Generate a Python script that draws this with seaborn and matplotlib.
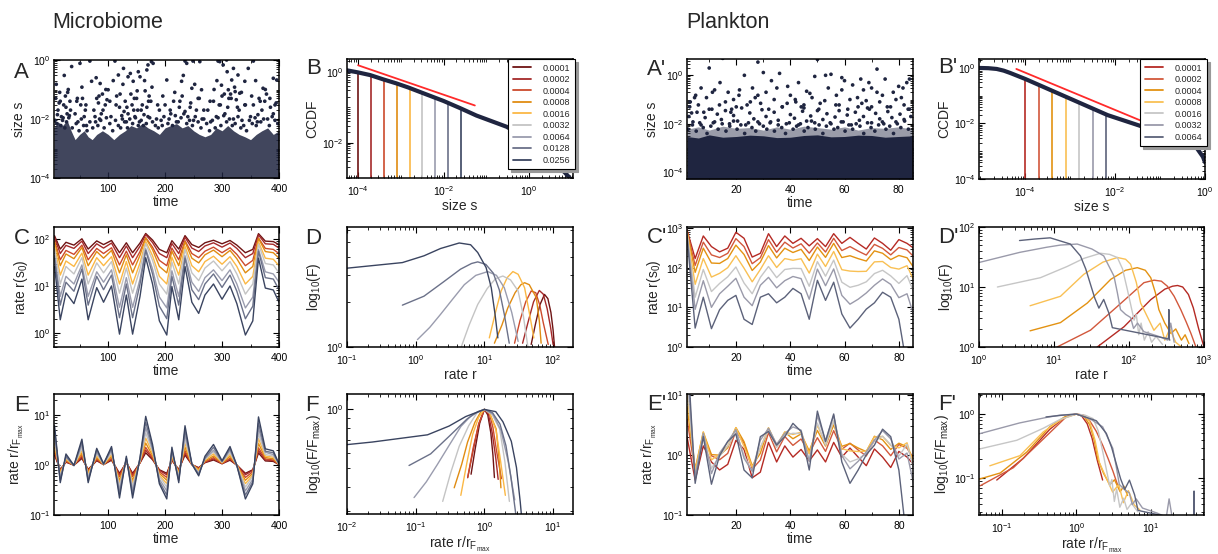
import numpy as np
import pandas as pd
import matplotlib
matplotlib.use('Agg')
import matplotlib.pyplot as plt
import seaborn as sns
from matplotlib.ticker import LogLocator, NullFormatter, LogFormatterSciNotation, MultipleLocator, FixedLocator
from matplotlib.lines import Line2D

sns.set_theme(style='ticks')
plt.rcParams['font.family'] = ['Liberation Sans', 'DejaVu Sans']
plt.rcParams['mathtext.fontset'] = 'custom'
plt.rcParams['mathtext.rm'] = 'Liberation Sans'
plt.rcParams['mathtext.it'] = 'Liberation Sans:italic'
plt.rcParams['mathtext.bf'] = 'Liberation Sans:bold'
plt.rcParams['mathtext.default'] = 'regular'

NAVY = '#1f2540'
RED = '#ff2a2a'

# ---------------- Microbiome data ----------------
mic_thr = [0.0001, 0.0002, 0.0004, 0.0008, 0.0016, 0.0032, 0.0064, 0.0128, 0.0256]
mic_labels = ['0.0001', '0.0002', '0.0004', '0.0008', '0.0016', '0.0032', '0.0064', '0.0128', '0.0256']
mic_colors = ['#6e1414', '#a52a2a', '#cc4a2c', '#e08c12', '#fbb845', '#c4c4c4', '#9a9cae', '#6b7189', '#3a4460']

# panel A: species sizes over time (sparse upper points, mid points, dense lower band edge)
A_top_t = [36, 50.6, 68, 71, 86, 100, 112, 118, 127, 135, 144, 153, 156, 168, 170, 176, 179, 203, 229, 235,
           238, 247, 249, 261, 264, 293, 296, 299, 302, 308, 311, 317, 320, 323, 328, 331, 340, 346, 355, 372,
           390, 396]
A_top_s = [0.6, 0.77, 0.92, 0.19, 0.16, 0.098, 0.92, 0.31, 0.52, 0.27, 0.19, 0.4, 0.27, 0.46, 0.68, 0.88, 0.77, 0.21, 0.19, 0.92,
           0.77, 0.11, 0.92, 0.88, 0.098, 0.92, 0.88, 0.14, 0.68, 1.0, 0.098, 0.21, 0.52, 0.085, 0.31, 0.075, 0.19, 0.52, 0.92, 0.11,
           0.24, 0.21]
A_up_t = [9, 16, 23, 29, 34, 46, 54, 61, 79, 84, 91, 96, 103, 109, 114, 121, 126, 133, 139, 146,
          151, 158, 164, 171, 177, 187, 196, 209, 217, 226, 232, 244, 252, 258, 268, 279, 286, 291, 297, 304,
          309, 316, 322, 327, 334, 341, 352, 359, 367, 376, 384, 393]
A_up_s = [0.15, 0.04, 0.3, 0.08, 0.02, 0.05, 0.12, 0.03, 0.25, 0.06, 0.02, 0.1, 0.04, 0.2, 0.03, 0.07, 0.15, 0.025, 0.35, 0.05,
          0.09, 0.02, 0.2, 0.04, 0.12, 0.03, 0.06, 0.02, 0.08, 0.04, 0.3, 0.025, 0.15, 0.05, 0.02, 0.04, 0.1, 0.2, 0.03, 0.07,
          0.4, 0.05, 0.12, 0.025, 0.08, 0.03, 0.06, 0.2, 0.04, 0.1, 0.05, 0.03]
A_mid_t = [8, 12, 15, 18, 22, 25, 28, 30, 33, 10, 20, 26, 31, 14, 24,
           42, 47, 52, 55, 58, 62, 45, 60,
           75, 80, 85, 90, 95, 78, 88, 98, 105, 83,
           115, 120, 125, 130, 135, 140, 145, 150, 155, 160, 165, 170, 175, 122, 132, 142, 152, 162, 172, 128, 148, 168,
           185, 190, 195, 200, 210, 215, 220, 225, 230, 240, 245, 250, 255, 260, 205, 235, 265,
           275, 280, 285, 290, 295, 300, 305, 310, 315, 320, 325, 330, 335, 340, 288, 312, 318,
           350, 355, 360, 365, 370, 375, 380, 385, 390, 395, 362, 378]
A_mid_s = [0.05, 0.02, 0.08, 0.012, 0.03, 0.06, 0.015, 0.1, 0.04, 0.007, 0.009, 0.025, 0.011, 0.035, 0.005,
           0.015, 0.008, 0.03, 0.05, 0.012, 0.006, 0.04, 0.02,
           0.02, 0.05, 0.01, 0.07, 0.03, 0.008, 0.015, 0.045, 0.012, 0.035,
           0.06, 0.025, 0.01, 0.04, 0.015, 0.07, 0.02, 0.05, 0.008, 0.03, 0.09, 0.012, 0.04, 0.005, 0.008, 0.03, 0.02, 0.006, 0.06, 0.018, 0.011, 0.025,
           0.01, 0.02, 0.006, 0.03, 0.015, 0.04, 0.008, 0.025, 0.06, 0.012, 0.035, 0.009, 0.02, 0.05, 0.007, 0.018, 0.01,
           0.02, 0.008, 0.04, 0.012, 0.03, 0.06, 0.015, 0.025, 0.07, 0.01, 0.045, 0.02, 0.009, 0.03, 0.005, 0.05, 0.006,
           0.012, 0.03, 0.006, 0.05, 0.02, 0.04, 0.01, 0.025, 0.015, 0.035, 0.008, 0.07]
A_low_t = [7, 11, 17, 21, 27, 32, 37, 44, 49, 53, 57, 63, 68, 73, 77, 82, 87, 93, 97, 103,
           108, 113, 118, 124, 129, 134, 138, 143, 147, 153, 158, 163, 167, 173, 178, 183, 188, 193, 198, 207,
           213, 218, 223, 228, 233, 238, 243, 248, 253, 258, 263, 268, 273, 278, 283, 293, 298, 303, 308, 313,
           323, 328, 333, 338, 343, 348, 353, 358, 363, 368, 373, 383, 388, 393, 398]
A_low_s = [0.009, 0.014, 0.006, 0.011, 0.008, 0.013, 0.005, 0.007, 0.004, 0.01, 0.006, 0.004, 0.008, 0.005, 0.012, 0.006, 0.009, 0.005, 0.011, 0.007,
           0.004, 0.009, 0.006, 0.013, 0.008, 0.005, 0.01, 0.007, 0.012, 0.006, 0.009, 0.014, 0.007, 0.011, 0.008, 0.006, 0.005, 0.009, 0.012, 0.01,
           0.006, 0.013, 0.008, 0.011, 0.015, 0.007, 0.009, 0.006, 0.012, 0.008, 0.005, 0.01, 0.007, 0.004, 0.009, 0.011, 0.006, 0.013, 0.008, 0.01,
           0.007, 0.012, 0.005, 0.006, 0.004, 0.009, 0.007, 0.011, 0.014, 0.008, 0.01, 0.006, 0.012, 0.009, 0.007]
A_band_t = [5, 12, 20, 28, 35, 42, 50, 58, 65, 72, 80, 90, 100, 110, 120, 130, 140, 150, 160, 170, 180, 190,
            200, 210, 220, 230, 240, 250, 260, 270, 280, 290, 300, 310, 320, 330, 340, 350, 360, 370, 380, 390, 400]
A_band_top = [5e-3, 8e-3, 6e-3, 9e-3, 4e-3, 2e-3, 3e-3, 4e-3, 2.5e-3, 2e-3, 3e-3, 4e-3, 3e-3, 2e-3, 3e-3, 4e-3,
              6e-3, 5e-3, 7e-3, 5e-3, 4e-3, 3e-3, 5e-3, 6e-3, 7e-3, 5e-3, 6e-3, 4e-3, 3e-3, 2.5e-3, 3e-3, 5e-3,
              4e-3, 6e-3, 4e-3, 3e-3, 2.5e-3, 2e-3, 3e-3, 4e-3, 5e-3, 3e-3, 4e-3]

# panel B: CCDF
B_s = [5.3e-5, 1e-4, 1.9e-4, 3.9e-4, 7.9e-4, 1.5e-3, 3.3e-3, 1e-2, 0.024, 0.059, 0.3, 1.0, 3.0, 5.2, 7.0, 9.0, 10.5]
B_p = [1.11, 0.96, 0.81, 0.61, 0.47, 0.36, 0.25, 0.15, 0.095, 0.058, 0.028, 0.012, 0.004, 0.002, 0.0014, 0.001, 0.0008]
B_fit_s = [1e-4, 0.054]
B_fit_p = [1.53, 0.112]
B_tops = [0.96, 0.76, 0.59, 0.45, 0.34, 0.25, 0.185, 0.135, 0.095]

# panel C: rate r(s0) time series, one per threshold
mic_t = [6, 16, 26, 40, 54, 65, 80, 92, 106, 120, 132, 143, 156, 166, 178, 190, 203, 212, 224, 235, 247, 259, 270,
         285, 300, 314, 326, 341, 354, 364, 376, 390, 400]
C_0001 = [117, 61, 85, 74, 101, 61, 91, 76, 93, 51, 83, 51, 82, 131, 95, 60, 51, 92, 61, 118, 76, 66, 83, 94, 79, 93, 74, 51, 60, 130, 90, 88, 76]
C_0002 = [108, 49, 73, 63, 90, 49, 79, 64, 82, 40, 71, 40, 70, 124, 84, 49, 40, 80, 49, 109, 64, 54, 71, 83, 67, 82, 63, 40, 49, 122, 79, 77, 64]
C_0004 = [91, 36, 57, 47, 74, 36, 63, 49, 65, 28, 55, 28, 54, 107, 67, 35, 27, 64, 36, 92, 49, 40, 55, 67, 51, 65, 47, 27, 35, 105, 63, 60, 49]
C_0008 = [86, 27, 48, 38, 66, 27, 54, 39, 57, 19, 46, 19, 45, 105, 59, 26, 19, 55, 27, 87, 39, 31, 46, 58, 42, 57, 38, 19, 26, 103, 54, 51, 39]
C_0016 = [70, 17, 34, 26, 50, 17, 40, 27, 42, 11, 33, 11, 31, 89, 44, 16, 11, 41, 17, 70, 27, 20, 33, 43, 29, 42, 26, 11, 16, 87, 39, 37, 27]
C_0032 = [60, 11, 26, 18, 40, 11, 31, 19, 33, 7.0, 24, 7.0, 23, 80, 35, 11, 6.7, 32, 11, 60, 19, 13, 24, 34, 21, 33, 18, 6.7, 11, 78, 30, 28, 19]
C_0064 = [44, 6.0, 16, 11, 28, 6.0, 20, 12, 22, 3.5, 15, 3.5, 14, 62, 23, 5.8, 3.4, 21, 6.0, 44, 12, 7.6, 15, 22, 13, 22, 11, 3.4, 5.8, 60, 20, 18, 12]
C_0128 = [39, 3.9, 12, 7.7, 23, 3.9, 16, 8.3, 17, 2.1, 11, 2.1, 11, 57, 18, 3.7, 2.0, 16, 3.9, 39, 8.3, 5.1, 11, 18, 9.3, 17, 7.7, 2.0, 3.7, 55, 15, 14, 8.3]
C_0256 = [26, 1.9, 7.1, 4.2, 14, 1.9, 9.2, 4.5, 10, 0.94, 6.4, 0.94, 6.0, 40, 11, 1.8, 0.9, 9.7, 1.9, 26, 4.5, 2.6, 6.4, 11, 5.2, 10, 4.2, 0.9, 1.8, 39, 9.0, 8.2, 4.5]
mic_C = [C_0001, C_0002, C_0004, C_0008, C_0016, C_0032, C_0064, C_0128, C_0256]

# panel D: histogram of rates, one per threshold
D_r_0001 = [48, 55, 64, 75, 84, 93, 100, 105]
D_F_0001 = [1.04, 1.4, 1.9, 2.24, 2.1, 1.7, 1.3, 1.0]
D_r_0002 = [36, 43, 52, 63, 72, 82, 92, 100]
D_F_0002 = [1.06, 1.45, 2.0, 2.38, 2.25, 1.8, 1.35, 1.04]
D_r_0004 = [27.5, 33, 40, 48, 56, 64, 72, 85]
D_F_0004 = [1.06, 1.5, 2.0, 2.36, 2.3, 1.9, 1.45, 1.04]
D_r_0008 = [14, 18, 21.9, 28, 34, 38.5, 45, 57, 63, 67]
D_F_0008 = [1.06, 1.4, 1.82, 2.3, 2.6, 2.68, 2.6, 2.13, 1.5, 1.06]
D_r_0016 = [11.8, 14.5, 17.5, 21.5, 26, 31, 38.5, 45, 52.5]
D_F_0016 = [1.15, 1.7, 2.36, 2.9, 3.18, 3.05, 2.48, 1.7, 1.15]
D_r_0032 = [4.6, 6.0, 8.0, 11, 14.5, 18.6, 24, 31, 37, 43]
D_F_0032 = [1.0, 1.4, 1.92, 2.45, 2.85, 2.97, 2.8, 2.36, 1.6, 1.0]
D_r_0064 = [1.06, 1.6, 2.3, 3.5, 5.1, 7.5, 11.2, 15, 19.5, 25, 31]
D_F_0064 = [1.12, 1.35, 1.65, 2.1, 2.6, 3.0, 3.18, 3.0, 2.48, 1.7, 1.09]
D_r_0128 = [0.64, 1.32, 2.5, 4.5, 6.5, 8.0, 10.5, 13.5, 16.5, 19.5, 23]
D_F_0128 = [1.9, 2.18, 2.7, 3.3, 3.6, 3.69, 3.55, 3.1, 2.4, 1.65, 1.06]
D_r_0256 = [0.043, 0.1, 0.64, 1.32, 2.3, 4.3, 6.3, 8.0, 10.6, 12.6, 14.3, 15.7]
D_F_0256 = [3.25, 3.35, 3.65, 4.05, 4.53, 4.93, 4.8, 4.26, 3.38, 2.48, 1.65, 1.15]
mic_D_r = [D_r_0001, D_r_0002, D_r_0004, D_r_0008, D_r_0016, D_r_0032, D_r_0064, D_r_0128, D_r_0256]
mic_D_F = [D_F_0001, D_F_0002, D_F_0004, D_F_0008, D_F_0016, D_F_0032, D_F_0064, D_F_0128, D_F_0256]

# ---------------- Plankton data ----------------
pl_thr = [0.0001, 0.0002, 0.0004, 0.0008, 0.0016, 0.0032, 0.0064]
pl_labels = ['0.0001', '0.0002', '0.0004', '0.0008', '0.0016', '0.0032', '0.0064']
pl_colors = ['#b52a24', '#d2583c', '#e39212', '#f9c054', '#c6c6c6', '#9a9aaa', '#5c627a']

Ap_top_t = [3, 5, 6, 7, 9, 10, 11, 12, 14, 15, 16, 17, 19, 20, 21, 23, 24, 26, 27, 28,
            29, 30, 31, 33, 34, 36, 37, 39, 40, 42, 43, 45, 46, 48, 49, 50, 51, 53, 54, 55,
            57, 58, 59, 60, 62, 63, 65, 66, 67, 68, 69, 70, 72, 73, 74, 75, 77, 78, 80, 81,
            82, 83, 84]
Ap_top_s = [0.08, 0.15, 0.06, 0.3, 0.12, 2.0, 0.04, 0.25, 0.5, 5.0, 0.08, 0.2, 0.1, 0.05, 0.15, 1.0, 0.06, 0.3, 0.12, 3.5,
            0.07, 1.3, 0.2, 0.6, 0.1, 1.2, 0.05, 0.35, 0.15, 0.08, 0.5, 0.06, 0.22, 0.12, 0.9, 4.5, 0.07, 1.0, 0.3, 1.1,
            0.15, 0.06, 0.8, 0.6, 0.1, 0.4, 0.05, 0.7, 0.25, 0.09, 0.5, 0.3, 1.8, 0.08, 0.15, 0.7, 0.05, 0.2, 0.35, 0.12,
            0.06, 0.5, 0.7]
Ap_up_t = [2.8, 4.6, 8, 11.2, 13.8, 18.3, 21.2, 25.2, 28, 32, 35, 38.8, 41.8, 44, 47.2, 50, 52.7, 56.8, 59, 61.2,
           64.8, 66.4, 69.2, 72, 75.8, 79, 81.6, 84]
Ap_up_s = [0.05, 0.12, 0.03, 0.2, 0.06, 0.04, 0.25, 0.08, 0.15, 0.04, 0.3, 0.07, 0.1, 0.05, 0.18, 0.035, 0.09, 0.06, 0.25, 0.04,
           0.12, 0.07, 0.04, 0.2, 0.05, 0.1, 0.3, 0.04]
Ap_mid_t = [2.5, 4, 5.5, 7, 8.5, 10, 11.5, 13, 14.5, 16, 17.5, 19, 20.5, 22, 23.5, 25, 26.5, 28, 29.5, 31,
            32.5, 34, 35.5, 37, 38.5, 40, 41.5, 43, 44.5, 46, 47.5, 49, 50.5, 52, 53.5, 55, 56.5, 58, 59.5, 61,
            62.5, 64, 65.5, 67, 68.5, 70, 71.5, 73, 74.5, 76, 77.5, 79, 80.5, 82, 83.5, 84.5, 3.5, 18, 45, 70]
Ap_mid_s = [0.02, 0.012, 0.03, 0.009, 0.018, 0.04, 0.011, 0.025, 0.015, 0.035, 0.01, 0.022, 0.013, 0.045, 0.009, 0.028, 0.016, 0.012, 0.038, 0.02,
            0.011, 0.03, 0.014, 0.05, 0.01, 0.024, 0.017, 0.009, 0.033, 0.013, 0.021, 0.011, 0.04, 0.015, 0.026, 0.01, 0.019, 0.035, 0.012, 0.023,
            0.009, 0.03, 0.014, 0.02, 0.045, 0.011, 0.027, 0.016, 0.01, 0.032, 0.018, 0.012, 0.025, 0.015, 0.04, 0.02, 0.028, 0.03, 0.045, 0.05]
Ap_low_t = [2.2, 3.8, 5.2, 6.5, 7.8, 9.2, 10.6, 12, 13.3, 14.8, 16.2, 17.6, 19, 20.3, 21.7, 23.1, 24.5, 25.8, 27.2, 28.6,
            30, 31.3, 32.7, 34.1, 35.5, 36.8, 38.2, 39.6, 41, 42.3, 43.7, 45.1, 46.5, 47.8, 49.2, 50.6, 52, 53.3, 54.7, 56.1,
            57.5, 58.8, 60.2, 61.6, 63, 64.3, 65.7, 67.1, 68.5, 69.8, 71.2, 72.6, 74, 75.3, 76.7, 78.1, 79.5, 80.8, 82.2, 83.6]
Ap_low_s = [0.006, 0.009, 0.005, 0.011, 0.007, 0.004, 0.008, 0.012, 0.006, 0.01, 0.005, 0.008, 0.013, 0.006, 0.009, 0.004, 0.011, 0.007, 0.005, 0.01,
            0.008, 0.006, 0.012, 0.005, 0.009, 0.007, 0.004, 0.011, 0.006, 0.008, 0.01, 0.005, 0.007, 0.013, 0.006, 0.009, 0.004, 0.008, 0.011, 0.006,
            0.007, 0.012, 0.005, 0.009, 0.006, 0.01, 0.008, 0.004, 0.011, 0.007, 0.005, 0.009, 0.012, 0.006, 0.008, 0.004, 0.01, 0.007, 0.013, 0.006]
Ap_band_t = [1.8, 6, 10, 15, 20, 25, 30, 35, 40, 45, 50, 55, 60, 65, 70, 75, 80, 85.3]
Ap_band_top = [3e-3, 2.6e-3, 3.5e-3, 2.8e-3, 3e-3, 3.4e-3, 3.2e-3, 2.7e-3, 2.8e-3, 3.3e-3, 3.5e-3, 2.9e-3,
               3e-3, 3.4e-3, 3.3e-3, 2.8e-3, 3e-3, 3.2e-3]
Ap_band2_top = [6e-3, 7.5e-3, 5.5e-3, 8e-3, 6.5e-3, 7e-3, 5.5e-3, 7.5e-3, 6e-3, 8e-3, 7e-3, 6e-3,
                7.5e-3, 5.5e-3, 7e-3, 6.5e-3, 7.5e-3, 6e-3]

Bp_s = [9.3e-6, 1.5e-5, 2.3e-5, 3.3e-5, 4.6e-5, 1e-4, 1e-3, 6.8e-3, 0.046, 0.26, 0.6, 0.9, 1.0]
Bp_p = [1.0, 0.98, 0.92, 0.8, 0.66, 0.40, 0.078, 0.02, 0.0072, 0.0028, 0.0016, 6.3e-4, 4e-4]
Bp_fit_s = [6.3e-5, 0.038]
Bp_fit_p = [0.92, 0.0125]
Bp_tops = [0.40, 0.25, 0.155, 0.092, 0.053, 0.035, 0.0216]

pl_t = [2, 5, 8, 11, 14, 17, 20, 23, 26, 29, 32, 35, 38, 41, 44, 47, 50, 53, 56, 59, 62, 65, 68, 71, 74, 77, 80, 83, 86]
Cp_0001 = [900, 170, 630, 340, 250, 310, 780, 550, 185, 230, 720, 340, 630, 410, 550, 355, 540, 340, 720, 410, 580, 410, 295, 560, 410, 275, 510, 410, 290]
Cp_0002 = [860, 114, 440, 210, 180, 230, 540, 340, 126, 178, 510, 244, 440, 313, 400, 232, 420, 248, 550, 270, 340, 262, 208, 386, 307, 210, 323, 280, 174]
Cp_0004 = [830, 76, 310, 131, 128, 170, 370, 215, 85, 138, 360, 176, 310, 241, 290, 151, 331, 182, 410, 180, 200, 169, 147, 265, 231, 160, 203, 178, 89]
Cp_0008 = [780, 38, 170, 58, 72, 100, 200, 97, 44, 90, 200, 101, 170, 154, 168, 73, 220, 107, 256, 89, 82, 80, 81, 140, 143, 101, 92, 112, 40]
Cp_0016 = [740, 18, 90, 25, 40, 59, 104, 41, 22, 57, 107, 56, 90, 96, 95, 34, 142, 61, 155, 43, 32, 36, 44, 71, 86, 62, 40, 63, 20]
Cp_0032 = [690, 8.9, 47, 10, 22, 34, 54, 18, 11, 36, 57, 31, 47, 60, 53, 16, 92, 35, 93, 20, 12, 16, 23, 36, 52, 38, 17.5, 22, 5]
Cp_0064 = [630, 3.0, 18, 2.9, 8.7, 15, 20, 5, 3.7, 18, 22, 13, 18, 30, 22, 5, 48, 15, 43, 6.8, 3.0, 5, 9, 13, 24, 18, 5, 0.3, 0.1]
pl_C = [Cp_0001, Cp_0002, Cp_0004, Cp_0008, Cp_0016, Cp_0032, Cp_0064]

Dp_r_0001 = [37.7, 86, 195, 300, 380, 444, 520, 620, 720, 850, 1000]
Dp_F_0001 = [1.0, 2.18, 6.15, 9.2, 10.3, 10.6, 10, 7.5, 4.5, 2.0, 1.0]
Dp_r_0002 = [11, 30.7, 70, 158, 216, 270, 325, 400, 490, 580, 670, 780]
Dp_F_0002 = [1.0, 1.91, 4.75, 11.8, 13, 12.5, 10.3, 7, 4.2, 2.6, 1.68, 1.0]
Dp_r_0004 = [4.8, 12.2, 27.8, 57, 90, 129, 165, 195, 225, 250, 300, 363, 420, 500, 560, 630]
Dp_F_0004 = [1.86, 2.55, 5.4, 13.4, 19, 21, 19, 14.3, 8, 4.2, 2.5, 1.68, 2.0, 1.3, 1.6, 1.14]
Dp_r_0008 = [4.8, 12.2, 25, 45, 70, 90, 105, 125, 143, 180, 215, 260, 300, 350, 420, 500]
Dp_F_0008 = [4.87, 7, 16.3, 26, 31, 29, 24, 12, 5.4, 3.0, 1.9, 2.5, 1.3, 2.0, 1.2, 1.0]
Dp_r_0016 = [1.76, 6.6, 15, 25, 41.7, 55, 70, 82, 95, 117, 125, 135, 145, 160, 180, 200, 230, 280]
Dp_F_0016 = [10, 14.3, 22, 30, 36.5, 35, 31, 20, 9.1, 2.8, 3.5, 1.6, 2.5, 1.3, 1.8, 1.2, 1.5, 1.1]
Dp_r_0032 = [1.0, 3.5, 8, 12.2, 20.4, 32, 46, 63, 70, 77, 90, 105, 115, 130, 158, 250, 330, 360, 400]
Dp_F_0032 = [25.6, 37.8, 46, 50, 52, 43, 33, 15.2, 8, 4.2, 3.5, 3.1, 2.04, 2.5, 1.8, 1.5, 1.3, 2.5, 1.2]
Dp_r_0064 = [3.47, 5.5, 8.9, 16.5, 22.5, 26.5, 30.7, 35, 39.7, 46, 54, 60, 325, 338, 340, 342, 350]
Dp_F_0064 = [59.5, 63, 66, 52, 33, 20, 11, 6.5, 4.45, 6.2, 3.66, 2.1, 1.38, 1.38, 4.2, 1.38, 1.3]
pl_D_r = [Dp_r_0001, Dp_r_0002, Dp_r_0004, Dp_r_0008, Dp_r_0016, Dp_r_0032, Dp_r_0064]
pl_D_F = [Dp_F_0001, Dp_F_0002, Dp_F_0004, Dp_F_0008, Dp_F_0016, Dp_F_0032, Dp_F_0064]

# ---------------- helpers ----------------
W, H = 1218, 554
fig = plt.figure(figsize=(W / 100, H / 100), dpi=100)
fig.patch.set_facecolor('white')


def rect(x0, y0, x1, y1):
    return [x0 / W, 1 - y1 / H, (x1 - x0) / W, (y1 - y0) / H]


def style(ax):
    ax.set_facecolor('white')
    for sp in ax.spines.values():
        sp.set_linewidth(1.1)
        sp.set_color('black')
        sp.set_visible(True)
    ax.tick_params(which='both', direction='in', top=True, right=True, colors='black', labelsize=7.5)
    ax.tick_params(axis='x', which='both', pad=4.2)
    ax.tick_params(axis='y', which='both', pad=2.5)
    ax.tick_params(which='major', length=4, width=0.8)
    ax.tick_params(which='minor', length=2, width=0.6)
    ax.grid(False)


def logaxis(axis, majors):
    axis.set_major_locator(FixedLocator(majors))
    axis.set_major_formatter(LogFormatterSciNotation())
    axis.set_minor_locator(LogLocator(base=10, subs=np.arange(1, 10), numticks=200))
    axis.set_minor_formatter(NullFormatter())


def linaxis(axis, major, minor):
    axis.set_major_locator(MultipleLocator(major))
    axis.set_minor_locator(MultipleLocator(minor))


def draw_lines(ax, xs_list, ys_list, colors, lw=1.0):
    for xs, ys, c in zip(xs_list, ys_list, colors):
        df = pd.DataFrame({'x': np.asarray(xs, float), 'y': np.asarray(ys, float)})
        sns.lineplot(data=df, x='x', y='y', ax=ax, color=c, lw=lw, estimator=None,
                     sort=False, legend=False)


def dots(ax, xs, ys):
    sns.scatterplot(x=xs, y=ys, ax=ax, s=7, color=NAVY, edgecolor='none', linewidth=0)


def peaks(rs, Fs):
    out = []
    for r, F in zip(rs, Fs):
        i = int(np.argmax(F))
        out.append((r[i], F[i]))
    return out


LBL = 10


def labels(ax, xl, yl):
    ax.set_xlabel(xl, fontsize=LBL, labelpad=1)
    ax.set_ylabel(yl, fontsize=LBL, labelpad=2)


def letter(x, y, s):
    fig.text(x / W, 1 - y / H, s, fontsize=16, va='baseline', ha='left')


def ccdf_panel(ax, thr, tops, colors, s, p, fs, fp, lab, xlim, ylim, xmaj, ymaj):
    ax.set_xscale('log')
    ax.set_yscale('log')
    ax.set_xlim(*xlim)
    ax.set_ylim(*ylim)
    ax.vlines(thr, ylim[0], tops, colors=colors, lw=1.2)
    df = pd.DataFrame({'x': s, 'y': p})
    sns.lineplot(data=df, x='x', y='y', ax=ax, color=NAVY, lw=3.0, estimator=None, sort=False)
    df2 = pd.DataFrame({'x': fs, 'y': fp})
    sns.lineplot(data=df2, x='x', y='y', ax=ax, color=RED, lw=1.3, estimator=None, sort=False)
    handles = [Line2D([], [], color=c, lw=1.3) for c in colors]
    leg = ax.legend(handles, lab, loc='upper right', bbox_to_anchor=(1.008, 1.0), fontsize=6.5,
                    frameon=True, fancybox=False, shadow={'color': '0.6', 'alpha': 1.0},
                    borderpad=0.5, labelspacing=0.28,
                    handlelength=2.0, handletextpad=1.3, borderaxespad=0.0)
    leg.get_frame().set_edgecolor('black')
    leg.get_frame().set_linewidth(0.8)
    logaxis(ax.xaxis, xmaj)
    logaxis(ax.yaxis, ymaj)
    labels(ax, 'size s', 'CCDF')


# ---------------- Titles ----------------
fig.text(52 / W, 1 - 28 / H, 'Microbiome', fontsize=15.5, va='baseline')
fig.text(686 / W, 1 - 28 / H, 'Plankton', fontsize=15.5, va='baseline')

# ---------------- Microbiome ----------------
axA = fig.add_axes(rect(54, 60, 279, 178))
style(axA)
axA.set_yscale('log')
axA.set_xlim(5, 400)
axA.set_ylim(1e-4, 1)
axA.fill_between(A_band_t, 1e-4, A_band_top, color=NAVY, alpha=0.85, lw=0)
dots(axA, A_low_t, A_low_s)
dots(axA, A_mid_t, A_mid_s)
dots(axA, A_up_t, A_up_s)
dots(axA, A_top_t, A_top_s)
linaxis(axA.xaxis, 100, 50)
logaxis(axA.yaxis, [1e-4, 1e-2, 1e0])
labels(axA, 'time', 'size s')
letter(14, 78, 'A')

axB = fig.add_axes(rect(347, 59, 573, 178))
style(axB)
ccdf_panel(axB, mic_thr, B_tops, mic_colors, B_s, B_p, B_fit_s, B_fit_p, mic_labels,
           (5.5e-5, 10.7), (1e-3, 2.3), [1e-4, 1e-2, 1e0], [1e-2, 1e0])
letter(306, 74, 'B')

mic_pk = peaks(mic_D_r, mic_D_F)

axC = fig.add_axes(rect(54, 227, 279, 347))
style(axC)
axC.set_yscale('log')
axC.set_xlim(5, 400)
axC.set_ylim(0.5, 180)
draw_lines(axC, [mic_t] * len(mic_C), mic_C, mic_colors)
linaxis(axC.xaxis, 100, 50)
logaxis(axC.yaxis, [1e0, 1e1, 1e2])
labels(axC, 'time', 'rate r(s$_0$)')
letter(14, 244, 'C')

axD = fig.add_axes(rect(347, 227, 573, 347))
style(axD)
axD.set_xscale('log')
axD.set_yscale('log')
axD.set_xlim(0.1, 195)
axD.set_ylim(1, 6.3)
draw_lines(axD, mic_D_r, mic_D_F, mic_colors)
logaxis(axD.xaxis, [1e-1, 1e0, 1e1, 1e2])
logaxis(axD.yaxis, [1e0])
labels(axD, 'rate r', 'log$_{10}$(F)')
letter(305, 244, 'D')

axE = fig.add_axes(rect(54, 394, 279, 515))
style(axE)
axE.set_yscale('log')
axE.set_xlim(5, 400)
axE.set_ylim(0.1, 26)
mic_E = [np.array(v, float) / pk[0] for v, pk in zip(mic_C, mic_pk)]
draw_lines(axE, [mic_t] * len(mic_E), mic_E, mic_colors)
linaxis(axE.xaxis, 100, 50)
logaxis(axE.yaxis, [1e-1, 1e0, 1e1])
labels(axE, 'time', 'rate r/r$_{F_{max}}$')
letter(14, 411, 'E')

axF = fig.add_axes(rect(347, 394, 573, 514))
style(axF)
axF.set_xscale('log')
axF.set_yscale('log')
axF.set_xlim(0.01, 19.5)
axF.set_ylim(0.29, 1.2)
mic_Fx = [np.array(r, float) / pk[0] for r, pk in zip(mic_D_r, mic_pk)]
mic_Fy = [np.array(F, float) / pk[1] for F, pk in zip(mic_D_F, mic_pk)]
draw_lines(axF, mic_Fx, mic_Fy, mic_colors)
logaxis(axF.xaxis, [1e-2, 1e-1, 1e0, 1e1])
logaxis(axF.yaxis, [1e0])
labels(axF, 'rate r/r$_{F_{max}}$', 'log$_{10}$(F/F$_{max}$)')
letter(305, 411, 'F')

# ---------------- Plankton ----------------
axAp = fig.add_axes(rect(687, 59, 913, 179))
style(axAp)
axAp.set_yscale('log')
axAp.set_xlim(1.8, 85.3)
axAp.set_ylim(5.3e-5, 4.7)
axAp.fill_between(Ap_band_t, 5.3e-5, Ap_band2_top, color=NAVY, alpha=0.45, lw=0)
axAp.fill_between(Ap_band_t, 5.3e-5, Ap_band_top, color=NAVY, alpha=1.0, lw=0)
dots(axAp, Ap_low_t, Ap_low_s)
dots(axAp, Ap_mid_t, Ap_mid_s)
dots(axAp, Ap_up_t, Ap_up_s)
dots(axAp, Ap_top_t, Ap_top_s)
linaxis(axAp.xaxis, 20, 10)
logaxis(axAp.yaxis, [1e-4, 1e-2, 1e0])
labels(axAp, 'time', 'size s')
letter(647, 75, "A'")

axBp = fig.add_axes(rect(979, 59, 1205, 179))
style(axBp)
ccdf_panel(axBp, pl_thr, Bp_tops, pl_colors, Bp_s, Bp_p, Bp_fit_s, Bp_fit_p, pl_labels,
           (9.3e-6, 1.0), (1e-4, 2.1), [1e-4, 1e-2, 1e0], [1e-4, 1e-2, 1e0])
letter(938, 73, "B'")

pl_pk = peaks(pl_D_r, pl_D_F)

axCp = fig.add_axes(rect(687, 227, 913, 347))
style(axCp)
axCp.set_yscale('log')
axCp.set_xlim(2, 85.2)
axCp.set_ylim(1, 1060)
draw_lines(axCp, [pl_t] * len(pl_C), pl_C, pl_colors)
linaxis(axCp.xaxis, 20, 10)
logaxis(axCp.yaxis, [1e0, 1e1, 1e2, 1e3])
labels(axCp, 'time', 'rate r(s$_0$)')
letter(647, 243, "C'")

axDp = fig.add_axes(rect(979, 227, 1204, 347))
style(axDp)
axDp.set_xscale('log')
axDp.set_yscale('log')
axDp.set_xlim(1, 1000)
axDp.set_ylim(1, 100)
draw_lines(axDp, pl_D_r, pl_D_F, pl_colors)
logaxis(axDp.xaxis, [1e0, 1e1, 1e2, 1e3])
logaxis(axDp.yaxis, [1e0, 1e1, 1e2])
labels(axDp, 'rate r', 'log$_{10}$(F)')
letter(938, 243, "D'")

axEp = fig.add_axes(rect(687, 394, 913, 515))
style(axEp)
axEp.set_yscale('log')
axEp.set_xlim(2, 85.2)
axEp.set_ylim(0.1, 10.4)
pl_E = [np.array(v, float) / pk[0] for v, pk in zip(pl_C, pl_pk)]
draw_lines(axEp, [pl_t] * len(pl_E), pl_E, pl_colors)
linaxis(axEp.xaxis, 20, 10)
logaxis(axEp.yaxis, [1e-1, 1e0, 1e1])
labels(axEp, 'time', 'rate r/r$_{F_{max}}$')
letter(647, 410, "E'")

axFp = fig.add_axes(rect(979, 394, 1204, 515))
style(axFp)
axFp.set_xscale('log')
axFp.set_yscale('log')
axFp.set_xlim(0.049, 52)
axFp.set_ylim(0.027, 2.05)
pl_Fx = [np.array(r, float) / pk[0] for r, pk in zip(pl_D_r, pl_pk)]
pl_Fy = [np.array(F, float) / pk[1] for F, pk in zip(pl_D_F, pl_pk)]
draw_lines(axFp, pl_Fx, pl_Fy, pl_colors)
logaxis(axFp.xaxis, [1e-1, 1e0, 1e1])
logaxis(axFp.yaxis, [1e-1, 1e0])
labels(axFp, 'rate r/r$_{F_{max}}$', 'log$_{10}$(F/F$_{max}$)')
letter(938, 410, "F'")

fig.savefig('out.png', dpi=100, facecolor='white')
